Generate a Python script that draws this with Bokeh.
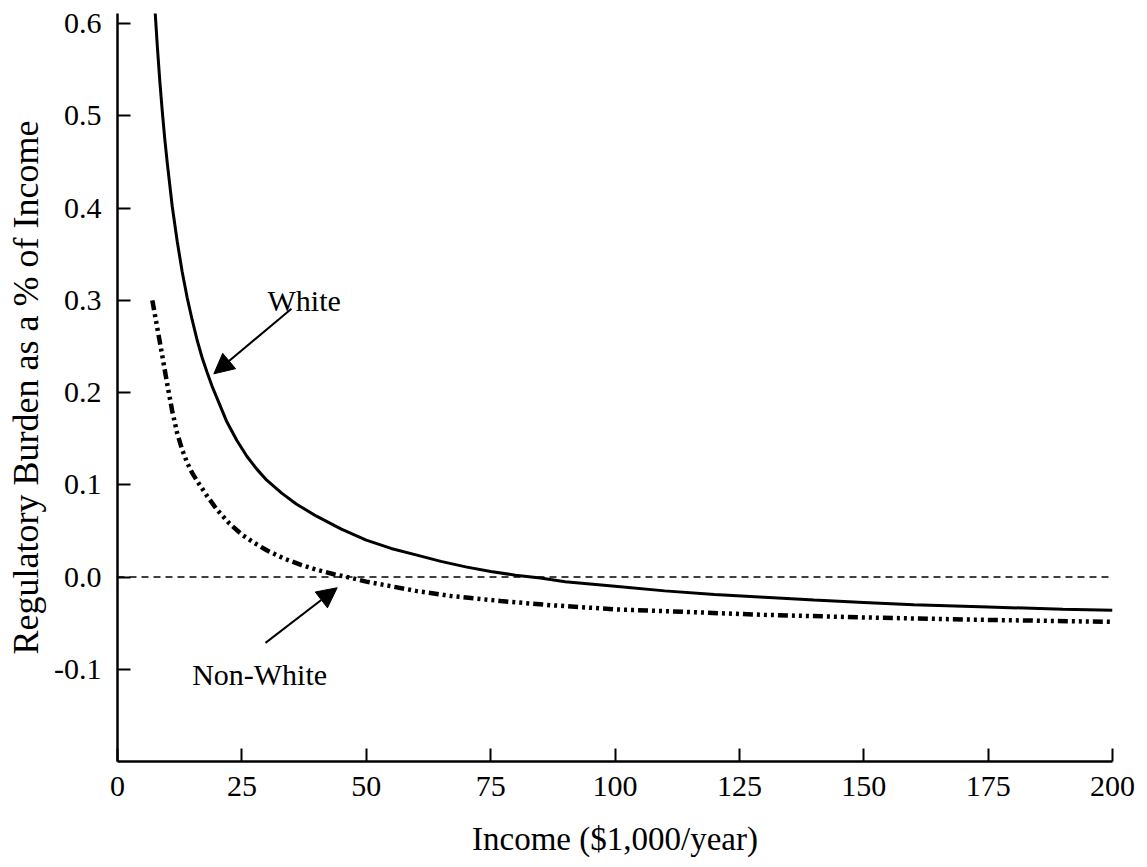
from bokeh.plotting import figure
from bokeh.models import Span, Label, Arrow, NormalHead, FixedTicker, NumeralTickFormatter, Range1d
from bokeh.embed import file_html
from bokeh.resources import INLINE

# ---- data ----
white_x = [7.55, 8.0, 8.5, 9.0, 9.5, 10.0, 11.0, 12.0, 13.0, 14.0, 15.0, 16.0, 17.0, 18.0, 19.0, 20.0,
           22.0, 24.0, 26.0, 28.0, 30.0, 33.0, 36.0, 40.0, 45.0, 50.0, 55.0, 60.0, 65.0, 70.0, 75.0,
           80.0, 85.0, 90.0, 100.0, 110.0, 120.0, 130.0, 140.0, 150.0, 160.0, 175.0, 190.0, 200.0]
white_y = [0.614, 0.576, 0.538, 0.505, 0.475, 0.449, 0.402, 0.364, 0.331, 0.303, 0.279, 0.257, 0.238,
           0.222, 0.207, 0.194, 0.168, 0.148, 0.131, 0.117, 0.105, 0.091, 0.079, 0.066, 0.052, 0.040,
           0.031, 0.024, 0.017, 0.011, 0.006, 0.002, -0.001, -0.005, -0.010, -0.015, -0.019, -0.022,
           -0.025, -0.0275, -0.030, -0.0325, -0.035, -0.036]

nonwhite_x = [7.0, 8.0, 9.0, 10.0, 11.0, 12.0, 13.0, 14.0, 15.0, 16.5, 18.0, 20.0, 22.5, 25.0, 27.5,
              30.0, 33.5, 37.0, 40.0, 43.5, 47.0, 50.0, 55.0, 60.0, 67.0, 77.0, 87.0, 100.0, 115.0,
              130.0, 150.0, 175.0, 200.0]
nonwhite_y = [0.300, 0.270, 0.240, 0.209, 0.180, 0.156, 0.138, 0.124, 0.113, 0.100, 0.088, 0.073, 0.058,
              0.046, 0.037, 0.029, 0.020, 0.013, 0.008, 0.003, -0.001, -0.005, -0.010, -0.015, -0.0205,
              -0.026, -0.0305, -0.035, -0.038, -0.041, -0.0438, -0.0465, -0.0486]

x_ticks = [0, 25, 50, 75, 100, 125, 150, 175, 200]
y_ticks = [-0.1, 0.0, 0.1, 0.2, 0.3, 0.4, 0.5, 0.6]

FONT = "'Liberation Serif', 'Times New Roman', serif"

p = figure(width=1140, height=859, output_backend="svg", toolbar_location=None,
           x_range=Range1d(0, 200), y_range=Range1d(-0.2, 0.611),
           min_border_left=117, min_border_top=13, min_border_right=28, min_border_bottom=98)
p.outline_line_color = None
p.grid.grid_line_color = None
p.background_fill_color = "white"
p.border_fill_color = "white"

# zero reference line
p.add_layout(Span(location=0, dimension="width", line_color="black", line_width=1.5, line_dash="7 5"))

p.line(white_x, white_y, line_color="black", line_width=3)
p.line(nonwhite_x, nonwhite_y, line_color="black", line_width=4.5,
       line_dash="10 4 3 4 3 4 3 4", line_cap="butt")

# annotations
p.add_layout(Label(x=30.15, y=0.30, text="White", text_font=FONT, text_font_size="30px",
                   text_color="black", text_align="left", text_baseline="alphabetic"))
p.add_layout(Label(x=15.0, y=-0.1058, text="Non-White", text_font=FONT, text_font_size="30px",
                   text_color="black", text_align="left", text_baseline="alphabetic"))
p.add_layout(Arrow(x_start=34.97, y_start=0.291, x_end=19.36, y_end=0.2203, line_width=2,
                   end=NormalHead(size=20, fill_color="black", line_color="black")))
p.add_layout(Arrow(x_start=29.75, y_start=-0.0714, x_end=44.16, y_end=-0.0116, line_width=2,
                   end=NormalHead(size=20, fill_color="black", line_color="black")))

# axes
p.xaxis.ticker = FixedTicker(ticks=x_ticks)
p.yaxis.ticker = FixedTicker(ticks=y_ticks)
p.yaxis.formatter = NumeralTickFormatter(format="0.0")
for ax in (p.xaxis[0], p.yaxis[0]):
    ax.axis_line_width = 2.5
    ax.axis_line_color = "black"
    ax.major_tick_in = 13
    ax.major_tick_out = 0
    ax.major_tick_line_width = 2
    ax.minor_tick_line_color = None
    ax.major_label_text_font = FONT
    ax.major_label_text_font_size = "30px"
    ax.major_label_text_color = "black"
    ax.axis_label_text_font = FONT
    ax.axis_label_text_font_style = "normal"
    ax.axis_label_text_color = "black"

p.xaxis.axis_label = "Income ($1,000/year)"
p.yaxis.axis_label = "Regulatory Burden as a % of Income"
p.xaxis.axis_label_text_font_size = "33px"
p.yaxis.axis_label_text_font_size = "36px"
p.xaxis.major_label_standoff = 15
p.xaxis.axis_label_standoff = 22
p.yaxis.major_label_standoff = 16
p.yaxis.axis_label_standoff = 5

open("out.html", "w").write(file_html(p, INLINE))
